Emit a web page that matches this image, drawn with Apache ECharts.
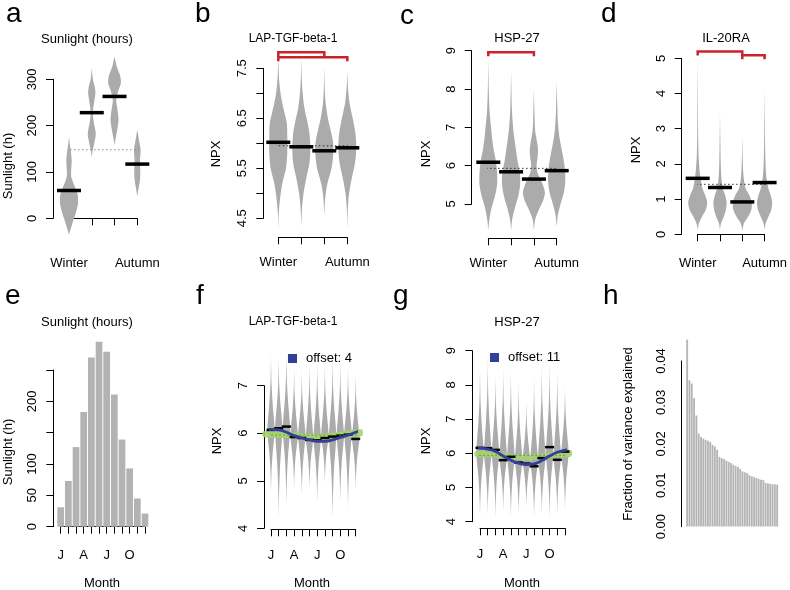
<!DOCTYPE html>
<html><head><meta charset="utf-8">
<script src="https://cdn.jsdelivr.net/npm/echarts@6/dist/echarts.min.js"></script>
<style>html,body{margin:0;padding:0;background:#fff}#c{width:790px;height:590px}</style>
</head><body><div id="c"></div>
<script>
// ---------------- DATA ----------------
const seasons = ['Winter', 'Spring', 'Summer', 'Autumn'];
const seasonTickLabels = ['Winter', '', '', 'Autumn'];
const monthNames = ['Jan','Feb','Mar','Apr','May','Jun','Jul','Aug','Sep','Oct','Nov','Dec'];
const monthTickLabels = ['J', '', '', 'A', '', '', 'J', '', '', 'O', '', ''];

// panel a: sunlight by season
const aYTickLabels = ['0', '100', '200', '300'];
const sunSeasonMean = [60, 228, 263, 117];
const sunOverallMean = 148;
const sunViolinWinter = [[-36,0],[-28,0.1],[-11,0.33],[11,0.67],[32,0.9],[50,0.88],[65,0.65],[78,0.4],[90,0.22],[105,0.22],[125,0.27],[145,0.18],[160,0.08],[177,0]];
const sunViolinSpring = [[133,0],[147,0.1],[165,0.28],[183,0.4],[205,0.22],[227,0.1],[248,0.22],[270,0.36],[284,0.3],[299,0.12],[324,0]];
const sunViolinSummer = [[158,0],[169,0.08],[191,0.27],[212,0.4],[234,0.3],[255,0.17],[277,0.4],[291,0.63],[306,0.58],[327,0.23],[349,0]];
const sunViolinAutumn = [[47,0],[61,0.1],[83,0.27],[104,0.3],[126,0.27],[147,0.33],[169,0.17],[191,0]];

// panel b: LAP-TGF-beta-1 by season
const bYTickLabels = ['4.5', '5.5', '6.5', '7.5'];
const lapSeasonMean = [6.02, 5.93, 5.85, 5.91];
const lapOverallMean = 5.95;
const lapBrackets = [[1, 3, 7.82], [1, 4, 7.72]];
const lapViolinWinter = [[4.25,0],[4.6,0.05],[4.9,0.2],[5.2,0.45],[5.5,0.85],[5.8,1.0],[6.1,1.0],[6.4,0.95],[6.6,0.7],[6.8,0.45],[7.0,0.25],[7.3,0.08],[7.73,0]];
const lapViolinSpring = [[4.33,0],[4.7,0.08],[5.0,0.25],[5.3,0.55],[5.6,0.9],[5.9,1.0],[6.2,0.9],[6.45,0.65],[6.7,0.35],[7.0,0.15],[7.3,0.05],[7.7,0]];
const lapViolinSummer = [[4.55,0],[4.9,0.1],[5.2,0.35],[5.5,0.8],[5.8,1.0],[6.05,0.95],[6.3,0.65],[6.5,0.4],[6.8,0.15],[7.1,0.05],[7.55,0]];
const lapViolinAutumn = [[4.27,0],[4.7,0.06],[5.0,0.2],[5.3,0.5],[5.6,0.85],[5.9,1.0],[6.2,0.9],[6.5,0.6],[6.8,0.25],[7.1,0.08],[7.43,0]];

// panel c: HSP-27 by season
const cYTickLabels = ['5', '6', '7', '8', '9'];
const hspSeasonMean = [6.09, 5.84, 5.65, 5.87];
const hspOverallMean = 5.93;
const hspBrackets = [[1, 3, 8.96]];
const hspViolinWinter = [[4.32,0],[4.6,0.1],[4.9,0.3],[5.2,0.6],[5.5,0.8],[5.8,0.8],[6.1,0.7],[6.4,0.5],[6.7,0.35],[7.0,0.25],[7.4,0.12],[7.9,0.05],[8.76,0]];
const hspViolinSpring = [[4.32,0],[4.6,0.1],[4.9,0.35],[5.2,0.65],[5.5,0.82],[5.8,0.8],[6.1,0.6],[6.4,0.45],[6.7,0.3],[7.0,0.18],[7.5,0.07],[8.45,0]];
const hspViolinSummer = [[4.32,0],[4.6,0.12],[4.85,0.45],[5.1,0.85],[5.3,1.0],[5.55,0.75],[5.8,0.35],[6.0,0.25],[6.2,0.33],[6.4,0.38],[6.6,0.3],[6.9,0.12],[7.3,0.06],[8.02,0]];
const hspViolinAutumn = [[4.41,0],[4.7,0.1],[5.0,0.35],[5.3,0.65],[5.6,0.78],[5.9,0.75],[6.2,0.6],[6.5,0.4],[6.8,0.22],[7.2,0.1],[7.6,0.05],[8.19,0]];

// panel d: IL-20RA by season
const dYTickLabels = ['0', '1', '2', '3', '4', '5'];
const ilSeasonMean = [1.59, 1.33, 0.92, 1.47];
const ilOverallMean = 1.42;
const ilBrackets = [[1, 3, 5.19], [3, 4, 5.09]];
const ilViolinWinter = [[0.12,0],[0.3,0.12],[0.5,0.45],[0.7,0.85],[0.9,1.0],[1.1,0.8],[1.3,0.5],[1.5,0.35],[1.8,0.2],[2.2,0.1],[2.8,0.05],[3.5,0.03],[5.0,0]];
const ilViolinSpring = [[0.12,0],[0.3,0.1],[0.5,0.4],[0.7,0.62],[0.9,0.7],[1.1,0.55],[1.3,0.3],[1.6,0.15],[2.0,0.08],[2.6,0.04],[3.43,0]];
const ilViolinSummer = [[0.1,0],[0.3,0.15],[0.5,0.6],[0.7,0.95],[0.9,1.0],[1.1,0.75],[1.3,0.35],[1.6,0.15],[2.0,0.06],[2.78,0]];
const ilViolinAutumn = [[0.12,0],[0.3,0.1],[0.5,0.4],[0.7,0.7],[0.9,0.8],[1.1,0.65],[1.3,0.4],[1.6,0.2],[2.0,0.1],[2.6,0.05],[3.2,0.03],[4.1,0]];

// panel e: sunlight per month
const eYTickLabels = ['0', '50', '100', '200'];
const sunMonth = [31, 73, 127, 183, 270, 295, 279, 211, 139, 93, 45, 21];

// panel f: LAP-TGF-beta-1 per month
const fYTickLabels = ['4', '5', '6', '7'];
const fMonthMean = [6.07, 6.105, 6.14, 5.92, 5.90, 5.86, 5.85, 5.90, 5.93, 5.95, 5.97, 5.88];
const fMonthTop = [7.68, 7.61, 7.72, 7.40, 7.33, 7.51, 7.51, 7.47, 7.58, 7.51, 7.40, 7.26];
const fMonthBottom = [4.74, 4.18, 4.46, 4.81, 4.67, 4.81, 4.53, 4.95, 4.18, 4.53, 4.39, 4.81];
const fMonthMode = [6.05, 6.1, 6.1, 5.95, 5.95, 5.9, 5.9, 5.95, 5.95, 5.95, 6.0, 5.9];
const fOverallMean = 5.96;
const fFitMonth = [0.0, 1, 2, 3, 4, 5, 6, 7, 8, 9, 10, 11, 12, 12.8];
const fFitNPX = [6.06, 6.08, 6.07, 6.02, 5.95, 5.90, 5.86, 5.83, 5.83, 5.86, 5.91, 5.96, 6.02, 6.07];
const fBandMonth = [0.0, 3, 6, 8, 10, 12.8];
const fBandLow = [5.92, 5.90, 5.88, 5.88, 5.90, 5.94];
const fBandHigh = [6.04, 6.02, 5.99, 5.99, 6.03, 6.08];
const fLegend = 'offset: 4';

// panel g: HSP-27 per month
const gYTickLabels = ['4', '5', '6', '7', '8', '9'];
const gMonthMean = [6.16, 6.15, 6.10, 5.80, 5.90, 5.73, 5.70, 5.62, 5.86, 6.18, 5.81, 6.05];
const gMonthTop = [8.53, 8.80, 8.30, 8.50, 8.40, 8.10, 7.55, 8.20, 8.60, 8.65, 8.40, 8.00];
const gMonthBottom = [4.10, 4.20, 4.10, 4.30, 4.10, 4.20, 4.40, 4.10, 4.20, 4.10, 4.20, 4.30];
const gMonthMode = [6.0, 6.0, 6.0, 5.9, 5.9, 5.8, 5.8, 5.8, 5.9, 6.0, 5.9, 6.0];
const gOverallMean = 5.94;
const gFitMonth = [0.4, 1, 2, 3, 4, 5, 6, 7, 8, 9, 10, 11, 12, 12.8];
const gFitNPX = [6.15, 6.15, 6.12, 6.05, 5.92, 5.80, 5.71, 5.67, 5.69, 5.79, 5.92, 6.03, 6.09, 6.11];
const gBandMonth = [0.4, 3, 5, 7, 9, 11, 12.8];
const gBandLow = [5.90, 5.88, 5.83, 5.80, 5.83, 5.88, 5.91];
const gBandHigh = [6.06, 6.03, 5.98, 5.95, 5.99, 6.05, 6.09];
const gLegend = 'offset: 11';

// panel h: fraction of variance explained (sorted)
const hYTickLabels = ['0.00', '0.01', '0.02', '0.03', '0.04'];
const varExplained = [0.0452, 0.0354, 0.0346, 0.0311, 0.0269, 0.0225, 0.0217, 0.0213, 0.0210, 0.0208,
  0.0205, 0.0198, 0.0194, 0.0186, 0.0169, 0.0166, 0.0164, 0.0160, 0.0157, 0.0154,
  0.0150, 0.0147, 0.0145, 0.0140, 0.0134, 0.0132, 0.0130, 0.0125, 0.0122, 0.0120,
  0.0118, 0.0116, 0.0114, 0.0113, 0.0106, 0.0105, 0.0104, 0.0103, 0.0103, 0.0102];

// violin shape template for monthly violins (fraction from mode, relative width)
const monthViolinBelow = [[0,1],[0.15,0.8],[0.35,0.45],[0.6,0.18],[0.8,0.06],[1,0]];
const monthViolinAbove = [[0,1],[0.15,0.8],[0.35,0.45],[0.6,0.15],[0.8,0.05],[1,0]];

// ---------------- STYLE / HELPERS ----------------
const FONT = "'Liberation Sans', Arial, Helvetica, sans-serif";
const VIOLIN = '#ababab', BARGREY = '#b3b3b3', RED = '#cc2229', BLUE = '#343f99', GREEN = '#a3d36b', GREENDARK = '#4f9a2c';
const seasonX = seasons.map((s, i) => i + 1);
const monthX = monthNames.map((m, i) => i + 1);

function monthProfile(bottom, mode, top) {
  const pts = [];
  for (let k = monthViolinBelow.length - 1; k >= 0; k--) {
    const [f, w] = monthViolinBelow[k];
    pts.push([mode - f * (mode - bottom), w]);
  }
  for (let k = 1; k < monthViolinAbove.length; k++) {
    const [f, w] = monthViolinAbove[k];
    pts.push([mode + f * (top - mode), w]);
  }
  return pts;
}

function violins(ax, xs, profiles, hw) {
  return {
    type: 'custom', xAxisIndex: ax, yAxisIndex: ax, silent: true, clip: false, z: 1,
    data: xs.map((x, i) => [x, i]),
    renderItem: (params, api) => {
      const x = api.value(0), prof = profiles[api.value(1)];
      const R = [], L = [];
      prof.forEach(([v, d]) => {
        const p = api.coord([x, v]);
        R.push([p[0] + d * hw, p[1]]);
        L.unshift([p[0] - d * hw, p[1]]);
      });
      return { type: 'polygon', shape: { points: R.concat(L), smooth: 0.3 }, style: { fill: VIOLIN } };
    }
  };
}
function meanTicks(ax, xs, vals, hw, lw) {
  return {
    type: 'custom', xAxisIndex: ax, yAxisIndex: ax, silent: true, clip: false, z: 4,
    data: xs.map((x, i) => [x, vals[i]]),
    renderItem: (params, api) => {
      const c = api.coord([api.value(0), api.value(1)]);
      return { type: 'line', shape: { x1: c[0] - hw, y1: c[1], x2: c[0] + hw, y2: c[1] }, style: { stroke: '#000', lineWidth: lw } };
    }
  };
}
function brackets(ax, list) {
  return {
    type: 'custom', xAxisIndex: ax, yAxisIndex: ax, silent: true, clip: false, z: 5,
    data: list,
    renderItem: (params, api) => {
      const a = api.coord([api.value(0), api.value(2)]), b = api.coord([api.value(1), api.value(2)]);
      return { type: 'polyline', shape: { points: [[a[0], a[1] + 4], [a[0], a[1]], [b[0], b[1]], [b[0], b[1] + 4]] },
        style: { stroke: RED, lineWidth: 2.5, fill: null } };
    }
  };
}
function band(ax, xs, lo, hi) {
  return {
    type: 'custom', xAxisIndex: ax, yAxisIndex: ax, silent: true, clip: false, z: 3,
    data: [[xs[0], lo[0]]],
    renderItem: (params, api) => {
      const up = xs.map((x, i) => api.coord([x, hi[i]]));
      const dn = xs.map((x, i) => api.coord([x, lo[i]])).reverse();
      return { type: 'polygon', shape: { points: up.concat(dn), smooth: 0.3 }, style: { fill: GREEN, opacity: 0.9 } };
    }
  };
}
function hline(ax, x0, x1, y, color, dash, z) {
  return { type: 'line', xAxisIndex: ax, yAxisIndex: ax, silent: true, clip: false, symbol: 'none', z: z || 2,
    data: [[x0, y], [x1, y]], lineStyle: { color: color, width: 1, type: dash } };
}

const axisLine = { lineStyle: { color: '#000', width: 1 } };
const axisTick = { length: 7, lineStyle: { color: '#000', width: 1 } };
function yAx(grid, min, max, interval, offset, labels, digits) {
  return { type: 'value', gridIndex: grid, min, max, interval, offset,
    axisLine: Object.assign({ show: true }, axisLine), axisTick, splitLine: { show: false },
    axisLabel: { rotate: 90, margin: 14, fontSize: 13, color: '#000', fontFamily: FONT,
      formatter: v => { const s = v.toFixed(digits); return labels.includes(s) ? s : ''; } } };
}
function xAx(grid, min, max, offset, labels, margin) {
  return { type: 'value', gridIndex: grid, min, max, interval: 1, offset,
    axisLine: Object.assign({ show: true }, axisLine), axisTick, splitLine: { show: false },
    axisLabel: { margin: margin, fontSize: 13, color: '#000', fontFamily: FONT,
      formatter: v => labels[Math.round(v) - 1] || '' } };
}

const grids = [
  { left: 69, top: 79.3, width: 68.3, height: 139 },
  { left: 278.3, top: 68.3, width: 69, height: 150 },
  { left: 488.3, top: 50.7, width: 68.4, height: 153.3 },
  { left: 697.7, top: 58.3, width: 68.3, height: 176 },
  { left: 60.7, top: 370, width: 84.3, height: 156.7 },
  { left: 271, top: 385.7, width: 84.7, height: 142.6 },
  { left: 480, top: 350.7, width: 85, height: 171 },
  { left: 686, top: 361, width: 92.3, height: 165.7 }
];

const xAxes = [
  xAx(0, 1, 4, 20, seasonTickLabels, 19),
  xAx(1, 1, 4, 19, seasonTickLabels, 19),
  xAx(2, 1, 4, 34.3, seasonTickLabels, 19),
  xAx(3, 1, 4, 4, seasonTickLabels, 19),
  xAx(4, 1, 12, 2, monthTickLabels, 20),
  xAx(5, 1, 12, 1, monthTickLabels, 20),
  xAx(6, 1, 12, 6.6, monthTickLabels, 20),
  { type: 'category', gridIndex: 7, show: false, data: varExplained.map((v, i) => i + 1) }
];
const yAxes = [
  yAx(0, 0, 300, 100, 16, aYTickLabels, 0),
  yAx(1, 4.5, 7.5, 0.5, 15, bYTickLabels, 1),
  yAx(2, 5, 9, 1, 16.6, cYTickLabels, 0),
  yAx(3, 0, 5, 1, 16, dYTickLabels, 0),
  yAx(4, 0, 250, 50, 7.4, eYTickLabels, 0),
  yAx(5, 4, 7, 1, 7, fYTickLabels, 0),
  yAx(6, 4, 9, 1, 7.7, gYTickLabels, 0),
  yAx(7, 0, 0.04, 0.01, 4.3, hYTickLabels, 2)
];

const series = [
  // a
  violins(0, seasonX, [sunViolinWinter, sunViolinSpring, sunViolinSummer, sunViolinAutumn], 10),
  hline(0, 0.52, 4.56, sunOverallMean, '#8a8a8a', [1.5, 2.5]),
  meanTicks(0, seasonX, sunSeasonMean, 12, 3.5),
  // b
  violins(1, seasonX, [lapViolinWinter, lapViolinSpring, lapViolinSummer, lapViolinAutumn], 9),
  hline(1, 0.5, 4.2, lapOverallMean, '#333', [1.5, 2.5]),
  meanTicks(1, seasonX, lapSeasonMean, 12, 3.5),
  brackets(1, lapBrackets),
  // c
  violins(2, seasonX, [hspViolinWinter, hspViolinSpring, hspViolinSummer, hspViolinAutumn], 11),
  hline(2, 0.2, 4.66, hspOverallMean, '#333', [1.5, 2.5]),
  meanTicks(2, seasonX, hspSeasonMean, 12, 3.5),
  brackets(2, hspBrackets),
  // d
  violins(3, seasonX, [ilViolinWinter, ilViolinSpring, ilViolinSummer, ilViolinAutumn], 9.5),
  hline(3, 0.57, 4.6, ilOverallMean, '#333', [1.5, 2.5]),
  meanTicks(3, seasonX, ilSeasonMean, 12, 3.5),
  brackets(3, ilBrackets),
  // e
  { type: 'bar', xAxisIndex: 4, yAxisIndex: 4, silent: true, clip: false, barWidth: 6.7,
    data: sunMonth.map((v, i) => [monthX[i], v]), itemStyle: { color: BARGREY } },
  // f
  violins(5, monthX, monthX.map((m, i) => monthProfile(fMonthBottom[i], fMonthMode[i], fMonthTop[i])), 3.7),
  meanTicks(5, monthX, fMonthMean, 4.5, 2.5),
  band(5, fBandMonth, fBandLow, fBandHigh),
  hline(5, fFitMonth[0], fFitMonth[fFitMonth.length - 1], fOverallMean, GREENDARK, [1.5, 2.5], 6),
  { type: 'line', name: fLegend, xAxisIndex: 5, yAxisIndex: 5, silent: true, clip: false, symbol: 'none', smooth: true, z: 7,
    data: fFitMonth.map((m, i) => [m, fFitNPX[i]]), lineStyle: { color: BLUE, width: 2.8 }, itemStyle: { color: BLUE } },
  // g
  violins(6, monthX, monthX.map((m, i) => monthProfile(gMonthBottom[i], gMonthMode[i], gMonthTop[i])), 3.7),
  meanTicks(6, monthX, gMonthMean, 4.5, 2.5),
  band(6, gBandMonth, gBandLow, gBandHigh),
  hline(6, gFitMonth[0], gFitMonth[gFitMonth.length - 1], gOverallMean, GREENDARK, [1.5, 2.5], 6),
  { type: 'line', name: gLegend, xAxisIndex: 6, yAxisIndex: 6, silent: true, clip: false, symbol: 'none', smooth: true, z: 7,
    data: gFitMonth.map((m, i) => [m, gFitNPX[i]]), lineStyle: { color: BLUE, width: 2.8 }, itemStyle: { color: BLUE } },
  // h
  { type: 'bar', xAxisIndex: 7, yAxisIndex: 7, silent: true, clip: false, barCategoryGap: '0%',
    data: varExplained, itemStyle: { color: BARGREY, borderColor: 'rgba(255,255,255,0.22)', borderWidth: 0.4 } }
];

function txt(x, y, text, size, rot, align) {
  return { type: 'text', x, y, rotation: rot || 0, silent: true,
    style: { text, fill: '#000', fontSize: size, fontFamily: FONT, align: align || 'center', verticalAlign: 'middle' } };
}
const R90 = Math.PI / 2;
const graphic = [
  // panel letters
  txt(6, 14, 'a', 28, 0, 'left'), txt(195, 14, 'b', 28, 0, 'left'), txt(400, 16, 'c', 28, 0, 'left'), txt(601, 14, 'd', 28, 0, 'left'),
  txt(5, 296, 'e', 28, 0, 'left'), txt(196, 296, 'f', 28, 0, 'left'), txt(393, 296, 'g', 28, 0, 'left'), txt(603, 296, 'h', 28, 0, 'left'),
  // titles
  txt(87, 39, 'Sunlight (hours)', 13), txt(293, 39, 'LAP-TGF-beta-1', 12), txt(517, 38, 'HSP-27', 13), txt(726, 38, 'IL-20RA', 13),
  txt(87, 322, 'Sunlight (hours)', 13), txt(293, 322, 'LAP-TGF-beta-1', 12), txt(517, 322, 'HSP-27', 13),
  // axis names
  txt(8, 166, 'Sunlight (h)', 13, R90), txt(216, 154, 'NPX', 13, R90), txt(426, 154, 'NPX', 13, R90), txt(636, 150, 'NPX', 13, R90),
  txt(8, 452, 'Sunlight (h)', 13, R90), txt(217, 441, 'NPX', 13, R90), txt(426, 441, 'NPX', 13, R90),
  txt(628, 434, 'Fraction of variance explained', 13, R90),
  txt(102, 583, 'Month', 13), txt(312, 583, 'Month', 13), txt(522, 583, 'Month', 13)
];

const SQUARE = 'path://M0,0L10,0L10,10L0,10Z';
const legend = [
  { data: [fLegend], left: 288, top: 352, padding: 0, icon: SQUARE, itemWidth: 17, itemHeight: 9, selectedMode: false,
    textStyle: { fontSize: 13, color: '#000', fontFamily: FONT } },
  { data: [gLegend], left: 490, top: 351, padding: 0, icon: SQUARE, itemWidth: 17, itemHeight: 9, selectedMode: false,
    textStyle: { fontSize: 13, color: '#000', fontFamily: FONT } }
];

const chart = echarts.init(document.getElementById('c'), null, { renderer: 'canvas' });
chart.setOption({ animation: false, backgroundColor: '#fff', grid: grids, xAxis: xAxes, yAxis: yAxes, series, graphic, legend });
</script>
</body></html>
